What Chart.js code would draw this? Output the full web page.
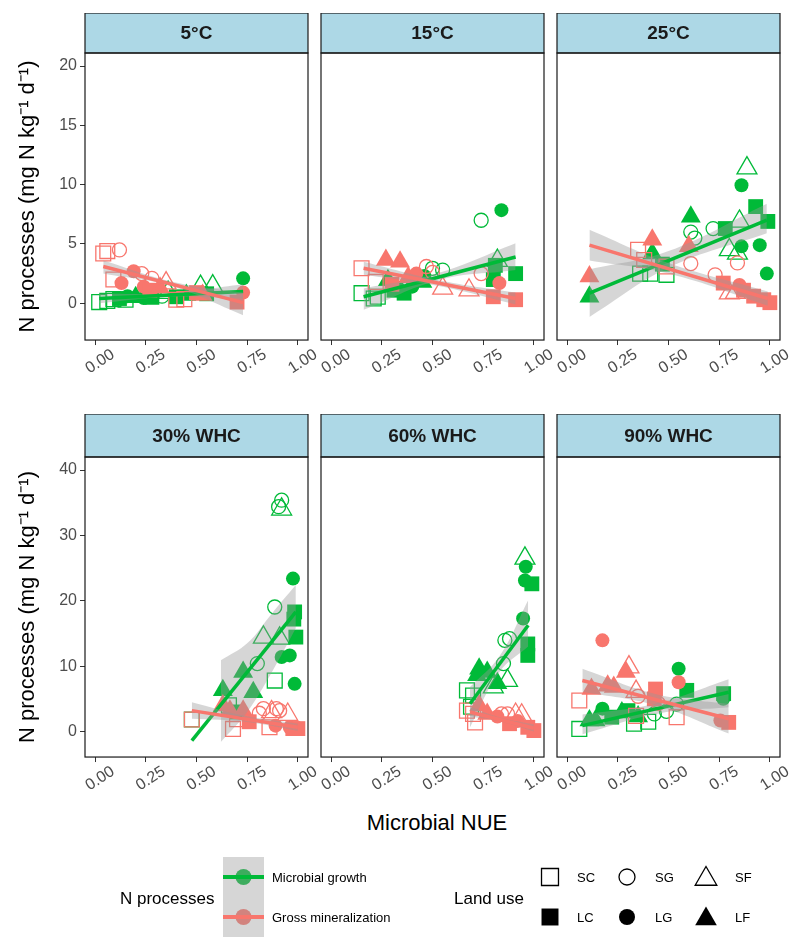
<!DOCTYPE html>
<html>
<head>
<meta charset="utf-8">
<script src="https://cdn.jsdelivr.net/npm/chart.js"></script>
<style>
html, body { margin: 0; padding: 0; background: #fff; }
body { width: 800px; height: 950px; position: relative; overflow: hidden; font-family: "Liberation Sans", Arial, sans-serif; }
.panel { position: absolute; left: 0; top: 0; width: 320px; height: 420px; }
.lbl { position: absolute; white-space: nowrap; color: #000; line-height: 1; transform: translateY(-50%); }
</style>
</head>
<body>
<div class="lbl" style="left:337px;width:200px;text-align:center;top:823px;font-size:22px;">Microbial NUE</div>
<canvas id="legend" width="800" height="110" style="position:absolute;left:0;top:840px;"></canvas>
<div class="lbl" style="left:120px;top:898px;font-size:17px;">N processes</div>
<div class="lbl" style="left:272px;top:877px;font-size:13px;">Microbial growth</div>
<div class="lbl" style="left:272px;top:917px;font-size:13px;">Gross mineralization</div>
<div class="lbl" style="left:454px;top:898px;font-size:17px;">Land use</div>
<div class="lbl" style="left:577px;top:877px;font-size:13px;">SC</div>
<div class="lbl" style="left:655px;top:877px;font-size:13px;">SG</div>
<div class="lbl" style="left:735px;top:877px;font-size:13px;">SF</div>
<div class="lbl" style="left:577px;top:917px;font-size:13px;">LC</div>
<div class="lbl" style="left:655px;top:917px;font-size:13px;">LG</div>
<div class="lbl" style="left:735px;top:917px;font-size:13px;">LF</div>
<script>
const FONT = '"Liberation Sans", Arial, sans-serif';
const GREEN = '#00BA38';
const PINK = '#F8766D';
const BAND = 'rgba(153,153,153,0.4)';

const panelTitles = ['5°C', '15°C', '25°C', '30% WHC', '60% WHC', '90% WHC'];
const xTicks = [0, 0.25, 0.5, 0.75, 1];

// [NUE, N process rate, land use]
const growth_5C = [[0.02,0.1,'SC'],[0.06,0.2,'SC'],[0.09,0.35,'SC'],[0.15,0.3,'SC'],[0.12,0.4,'LC'],[0.16,0.6,'LG'],
  [0.2,0.5,'LF'],[0.24,0.45,'LG'],[0.28,0.5,'LC'],[0.33,0.6,'SG'],[0.4,0.55,'LC'],[0.45,0.7,'LF'],[0.36,0.9,'SF'],
  [0.52,1.4,'SF'],[0.58,1.45,'SF'],[0.55,0.8,'LC'],[0.73,2.1,'LG']];
const mineral_5C = [[0.04,4.2,'SC'],[0.06,4.4,'SC'],[0.12,4.5,'SG'],[0.09,2.0,'SC'],[0.13,1.7,'LG'],[0.19,2.7,'LG'],
  [0.23,2.5,'SG'],[0.28,2.1,'SG'],[0.24,1.4,'LG'],[0.27,1.1,'LC'],[0.32,1.3,'LF'],[0.35,1.7,'SF'],[0.40,0.3,'SC'],
  [0.44,0.35,'SC'],[0.5,0.9,'LC'],[0.53,0.7,'LF'],[0.73,0.9,'LG'],[0.70,0.1,'LC']];
const growth_15C = [[0.15,0.85,'SC'],[0.23,0.55,'SC'],[0.21,0.4,'SC'],[0.28,1.95,'LF'],[0.31,1.1,'LC'],[0.36,0.85,'LC'],
  [0.33,1.3,'LG'],[0.40,1.4,'LG'],[0.46,2.3,'LG'],[0.45,1.8,'LF'],[0.5,2.95,'SG'],[0.55,2.8,'SG'],[0.74,7.0,'SG'],
  [0.84,7.85,'LG'],[0.81,3.2,'LC'],[0.82,3.6,'SF'],[0.91,2.5,'LC'],[0.80,2.0,'LC']];
const mineral_15C = [[0.15,2.95,'SC'],[0.22,1.8,'SC'],[0.27,3.65,'LF'],[0.34,3.5,'LF'],[0.38,2.2,'LF'],[0.3,1.6,'LC'],
  [0.42,2.5,'LG'],[0.47,3.1,'SG'],[0.50,2.6,'SG'],[0.55,1.25,'SF'],[0.68,1.1,'SF'],[0.74,2.5,'SG'],[0.83,1.7,'LG'],
  [0.80,0.55,'LC'],[0.91,0.3,'LC']];
const growth_25C = [[0.11,0.55,'LF'],[0.36,2.5,'SC'],[0.41,2.5,'SC'],[0.49,2.4,'SC'],[0.47,3.3,'LC'],[0.42,4.2,'LF'],
  [0.61,7.3,'LF'],[0.61,6.0,'SG'],[0.63,5.5,'SG'],[0.72,6.3,'SG'],[0.78,6.3,'LC'],[0.93,8.15,'LC'],[0.99,6.9,'LC'],
  [0.86,9.95,'LG'],[0.887,11.4,'SF'],[0.85,6.9,'SF'],[0.80,4.5,'SF'],[0.84,4.2,'SF'],[0.86,4.8,'LG'],[0.95,4.9,'LG'],
  [0.985,2.5,'LG']];
const mineral_25C = [[0.11,2.25,'LF'],[0.42,5.35,'LF'],[0.35,4.5,'SC'],[0.38,3.65,'SC'],[0.49,3.1,'SC'],[0.60,4.8,'LF'],
  [0.61,3.35,'SG'],[0.73,2.4,'SG'],[0.84,3.4,'SG'],[0.77,1.7,'LC'],[0.87,1.1,'LC'],[0.92,0.6,'LC'],[0.97,0.3,'LC'],
  [1.0,0.05,'LC'],[0.85,1.55,'LG'],[0.80,0.85,'SF'],[0.83,0.9,'SF']];
const growth_30WHC = [[0.92,35.4,'SG'],[0.905,34.4,'SG'],[0.92,34.0,'SF'],[0.976,23.4,'LG'],[0.886,19.05,'SG'],
  [0.984,18.3,'LC'],[0.98,17.2,'LC'],[0.99,14.45,'LC'],[0.83,14.4,'SF'],[0.91,14.25,'SF'],[0.92,11.4,'LG'],
  [0.96,11.65,'LG'],[0.80,10.4,'SG'],[0.73,9.1,'LF'],[0.886,7.8,'SC'],[0.984,7.3,'LG'],[0.63,6.3,'LF'],[0.78,6.0,'LF'],
  [0.477,1.85,'SC'],[0.66,4.0,'SC'],[0.70,3.0,'LC']];
const mineral_30WHC = [[0.477,1.85,'SC'],[0.63,4.0,'LF'],[0.665,3.2,'LF'],[0.73,3.2,'LF'],[0.81,2.8,'SG'],[0.83,3.5,'SG'],
  [0.894,3.5,'SG'],[0.91,3.2,'SG'],[0.87,3.0,'SF'],[0.95,2.6,'SF'],[0.68,0.4,'SC'],[0.70,1.9,'SC'],[0.86,0.65,'SC'],
  [0.76,1.5,'LC'],[0.975,0.45,'LC'],[1.0,0.45,'LC'],[0.89,0.9,'LG'],[0.96,0.6,'LG']];
const growth_60WHC = [[0.956,26.5,'SF'],[0.96,25.2,'LG'],[0.956,23.1,'LG'],[0.99,22.6,'LC'],[0.947,17.3,'LG'],
  [0.857,13.95,'SG'],[0.88,14.2,'SG'],[0.97,13.4,'LC'],[0.97,11.65,'LC'],[0.85,10.4,'SG'],[0.73,9.6,'LF'],[0.77,9.1,'LF'],
  [0.72,8.6,'LF'],[0.87,7.8,'SF'],[0.82,7.4,'LF'],[0.80,6.8,'SF'],[0.67,6.3,'SC'],[0.70,5.5,'SC'],[0.69,3.8,'SC']];
const mineral_60WHC = [[0.67,3.2,'SC'],[0.70,2.7,'SC'],[0.71,1.4,'SC'],[0.73,4.0,'LF'],[0.77,2.7,'LF'],[0.82,2.3,'LG'],
  [0.92,1.6,'LG'],[0.84,2.7,'SG'],[0.87,2.7,'SG'],[0.91,2.6,'SF'],[0.94,2.5,'SF'],[0.88,1.2,'LC'],[0.97,0.65,'LC'],
  [1.0,0.15,'LC']];
const growth_90WHC = [[0.06,0.4,'SC'],[0.11,1.7,'LF'],[0.14,1.7,'LF'],[0.174,3.5,'LG'],[0.22,2.2,'LC'],[0.27,2.9,'LF'],
  [0.30,3.2,'LC'],[0.35,2.3,'LF'],[0.33,1.2,'SC'],[0.40,1.5,'SC'],[0.43,2.7,'SG'],[0.49,3.1,'SG'],[0.54,4.2,'SG'],
  [0.55,9.6,'LG'],[0.59,6.3,'LC'],[0.772,5.8,'LC'],[0.77,5.0,'LG']];
const mineral_90WHC = [[0.174,13.95,'LG'],[0.305,9.85,'SF'],[0.29,9.1,'LF'],[0.55,7.55,'LG'],[0.436,6.5,'LC'],
  [0.43,5.0,'LC'],[0.12,6.5,'LF'],[0.2,7.0,'LF'],[0.23,6.8,'LF'],[0.06,4.75,'SC'],[0.34,6.1,'SF'],[0.35,5.4,'SG'],
  [0.45,4.3,'SG'],[0.34,2.4,'SC'],[0.54,2.2,'SC'],[0.756,1.7,'LG'],[0.797,1.4,'LC']];

// fitted lines [x, y] and confidence bands [x, lower, upper]
const growthLine_5C = [[0.02,0.4],[0.73,1.0]];
const growthBand_5C = [[0.02,0.0,0.8],[0.37,0.55,0.85],[0.73,0.4,1.6]];
const mineralLine_5C = [[0.04,3.1],[0.73,0.05]];
const mineralBand_5C = [[0.04,2.5,3.6],[0.385,1.4,1.8],[0.73,-1.0,0.9]];
const growthLine_15C = [[0.16,0.55],[0.91,3.9]];
const growthBand_15C = [[0.16,-0.55,1.25],[0.53,1.95,2.55],[0.91,2.8,5.05]];
const mineralLine_15C = [[0.16,2.95],[0.91,0.4]];
const mineralBand_15C = [[0.16,2.4,3.5],[0.53,1.45,1.95],[0.91,-0.1,0.9]];
const growthLine_25C = [[0.11,0.85],[0.985,7.0]];
const growthBand_25C = [[0.11,-1.15,2.85],[0.5,3.0,4.4],[0.985,5.9,8.4]];
const mineralLine_25C = [[0.11,4.9],[0.99,0.4]];
const mineralBand_25C = [[0.11,3.6,6.2],[0.5,2.5,3.4],[0.99,-0.2,1.0]];
const growthLine_30WHC = [[0.477,-1.4],[0.99,18.3]];
const growthBand_30WHC = [[0.62,-1.6,10.9],[0.75,3.0,13.5],[0.87,9.0,18.0],[0.99,15.8,22.4]];
const mineralLine_30WHC = [[0.477,3.2],[1.0,0.65]];
const mineralBand_30WHC = [[0.477,1.95,4.5],[0.74,1.5,2.4],[1.0,0.1,1.2]];
const growthLine_60WHC = [[0.685,4.25],[0.972,16.25]];
const growthBand_60WHC = [[0.685,0.65,6.8],[0.83,9.1,11.5],[0.972,13.0,20.1]];
const mineralLine_60WHC = [[0.685,3.0],[1.0,0.5]];
const mineralBand_60WHC = [[0.685,2.3,3.8],[0.84,1.5,2.1],[1.0,0.0,1.1]];
const growthLine_90WHC = [[0.075,0.9],[0.797,6.0]];
const growthBand_90WHC = [[0.075,-0.4,2.6],[0.44,2.7,4.3],[0.797,3.7,8.0]];
const mineralLine_90WHC = [[0.075,7.8],[0.797,1.95]];
const mineralBand_90WHC = [[0.075,6.1,9.6],[0.44,4.0,5.7],[0.797,-0.3,4.2]];

const yTop = { min: -3.1, max: 21.1, step: 5 };
const yBottom = { min: -3.9, max: 42, step: 10 };

const shapeOf = { SC: 'rect', LC: 'rect', SG: 'circle', LG: 'circle', SF: 'triangle', LF: 'triangle' };
const radiusOf = { rect: 10.5, circle: 7, triangle: 11.5 };
const isOpen = lu => lu[0] === 'S';

const cols = [{ l: 85, r: 308 }, { l: 321, r: 544 }, { l: 557, r: 780 }];
const rows = [{ t: 53, b: 340, strip: 40 }, { t: 457, b: 757, strip: 43 }];

const panels = [
  { growth: growth_5C, mineral: mineral_5C, gLine: growthLine_5C, gBand: growthBand_5C, mLine: mineralLine_5C, mBand: mineralBand_5C },
  { growth: growth_15C, mineral: mineral_15C, gLine: growthLine_15C, gBand: growthBand_15C, mLine: mineralLine_15C, mBand: mineralBand_15C },
  { growth: growth_25C, mineral: mineral_25C, gLine: growthLine_25C, gBand: growthBand_25C, mLine: mineralLine_25C, mBand: mineralBand_25C },
  { growth: growth_30WHC, mineral: mineral_30WHC, gLine: growthLine_30WHC, gBand: growthBand_30WHC, mLine: mineralLine_30WHC, mBand: mineralBand_30WHC },
  { growth: growth_60WHC, mineral: mineral_60WHC, gLine: growthLine_60WHC, gBand: growthBand_60WHC, mLine: mineralLine_60WHC, mBand: mineralBand_60WHC },
  { growth: growth_90WHC, mineral: mineral_90WHC, gLine: growthLine_90WHC, gBand: growthBand_90WHC, mLine: mineralLine_90WHC, mBand: mineralBand_90WHC }
];

function pointSet(pts, color, order) {
  return {
    data: pts.map(p => ({ x: p[0], y: p[1] })),
    order,
    pointStyle: pts.map(p => shapeOf[p[2]]),
    pointRadius: pts.map(p => radiusOf[shapeOf[p[2]]]),
    backgroundColor: pts.map(p => isOpen(p[2]) ? 'rgba(0,0,0,0)' : color),
    borderColor: color,
    borderWidth: pts.map(p => isOpen(p[2]) ? 1.3 : 0),
    showLine: false
  };
}

function lineSet(pts, color, order) {
  return {
    type: 'line', order,
    data: pts.map(p => ({ x: p[0], y: p[1] })),
    borderColor: color, borderWidth: 3.5, pointRadius: 0, fill: false, tension: 0
  };
}

function bandSets(band, order) {
  return [
    { type: 'line', order, data: band.map(b => ({ x: b[0], y: b[2] })), fill: '+1', backgroundColor: BAND,
      borderColor: 'rgba(0,0,0,0)', borderWidth: 0, pointRadius: 0, tension: 0.4 },
    { type: 'line', order, data: band.map(b => ({ x: b[0], y: b[1] })), fill: false,
      borderColor: 'rgba(0,0,0,0)', borderWidth: 0, pointRadius: 0, tension: 0.4 }
  ];
}

// strip header and panel border
const stripPlugin = {
  id: 'strip',
  afterDraw(chart, args, opts) {
    const { ctx, chartArea: a } = chart;
    const w = a.right - a.left;
    ctx.save();
    ctx.fillStyle = '#ADD8E6';
    ctx.fillRect(a.left, a.top - opts.h, w, opts.h);
    ctx.strokeStyle = '#1a1a1a';
    ctx.lineWidth = 1.2;
    ctx.strokeRect(a.left, a.top - opts.h, w, opts.h);
    ctx.strokeRect(a.left, a.top, w, a.bottom - a.top);
    ctx.fillStyle = '#1a1a1a';
    ctx.font = 'bold 19px ' + FONT;
    ctx.textAlign = 'center';
    ctx.textBaseline = 'middle';
    ctx.fillText(opts.text, a.left + w / 2, a.top - opts.h / 2 + 1);
    ctx.restore();
  }
};

function makePanel(idx) {
  const p = panels[idx];
  const row = rows[Math.floor(idx / 3)];
  const col = cols[idx % 3];
  const yr = idx < 3 ? yTop : yBottom;
  const first = idx % 3 === 0;

  const div = document.createElement('div');
  div.className = 'panel';
  document.body.appendChild(div);
  const cv = document.createElement('canvas');
  div.appendChild(cv);

  const chart = new Chart(cv, {
    type: 'scatter',
    data: {
      datasets: [
        lineSet(p.mLine, PINK, 1),
        ...bandSets(p.mBand, 2),
        lineSet(p.gLine, GREEN, 3),
        ...bandSets(p.gBand, 4),
        pointSet(p.mineral, PINK, 5),
        pointSet(p.growth, GREEN, 6)
      ]
    },
    options: {
      responsive: true,
      maintainAspectRatio: false,
      animation: false,
      events: [],
      layout: { padding: { top: row.strip, left: first ? 0 : 30, right: 30, bottom: 0 } },
      plugins: {
        legend: { display: false },
        tooltip: { enabled: false },
        strip: { text: panelTitles[idx], h: row.strip }
      },
      scales: {
        x: {
          type: 'linear', min: -0.05, max: 1.05,
          border: { display: false },
          grid: { drawOnChartArea: false, drawTicks: true, tickLength: 5, color: '#333', lineWidth: 1 },
          afterBuildTicks: s => { s.ticks = xTicks.map(v => ({ value: v })); },
          ticks: {
            autoSkip: false, minRotation: 33, maxRotation: 33, padding: 0, labelOffset: 18,
            color: '#4d4d4d', font: { family: FONT, size: 16 },
            callback: v => Number(v).toFixed(2)
          }
        },
        y: {
          display: first,
          min: yr.min, max: yr.max,
          border: { display: false },
          grid: { drawOnChartArea: false, drawTicks: true, tickLength: 5, color: '#333', lineWidth: 1 },
          ticks: { stepSize: yr.step, includeBounds: false, padding: 3, color: '#4d4d4d', font: { family: FONT, size: 16 } },
          title: { display: true, text: 'N processes (mg N kg⁻¹ d⁻¹)', color: '#000', font: { family: FONT, size: 22 }, padding: 0 },
          afterFit: s => { s.width = 70; }
        }
      }
    },
    plugins: [stripPlugin]
  });

  // size and move the canvas so that the plot area lands on the panel box
  for (let k = 0; k < 3; k++) {
    const a = chart.chartArea;
    const w = chart.width + (col.r - col.l) - (a.right - a.left);
    const h = chart.height + (row.b - row.t) - (a.bottom - a.top);
    div.style.width = w + 'px';
    div.style.height = h + 'px';
    chart.resize();
  }
  const a = chart.chartArea;
  div.style.left = (col.l - a.left) + 'px';
  div.style.top = (row.t - a.top) + 'px';
}

for (let i = 0; i < panels.length; i++) makePanel(i);

// legend keys
const lg = document.getElementById('legend').getContext('2d');
const LY = 840;
function drawShape(ctx, style, r, x, y, fill, stroke, bw) {
  ctx.save();
  ctx.fillStyle = fill;
  ctx.strokeStyle = stroke;
  ctx.lineWidth = bw;
  if (Chart.helpers && Chart.helpers.drawPoint) {
    Chart.helpers.drawPoint(ctx, { pointStyle: style, radius: r, rotation: 0, borderWidth: bw }, x, y);
  }
  ctx.restore();
}
drawShape(lg, 'circle', 8, 243.5, 877 - LY, GREEN, GREEN, 0);
drawShape(lg, 'circle', 8, 243.5, 917 - LY, PINK, PINK, 0);
lg.fillStyle = BAND;
lg.fillRect(223, 857 - LY, 41, 80);
lg.lineWidth = 4;
lg.strokeStyle = GREEN;
lg.beginPath(); lg.moveTo(223, 877 - LY); lg.lineTo(264, 877 - LY); lg.stroke();
lg.strokeStyle = PINK;
lg.beginPath(); lg.moveTo(223, 917 - LY); lg.lineTo(264, 917 - LY); lg.stroke();

const legendShapes = [['rect', 12, 550], ['circle', 8, 627], ['triangle', 12.5, 706]];
legendShapes.forEach(s => {
  drawShape(lg, s[0], s[1], s[2], 877 - LY + (s[0] === 'triangle' ? 2 : 0), 'rgba(0,0,0,0)', '#000', 1.3);
  drawShape(lg, s[0], s[1], s[2], 917 - LY + (s[0] === 'triangle' ? 2 : 0), '#000', '#000', 0);
});
</script>
</body>
</html>
